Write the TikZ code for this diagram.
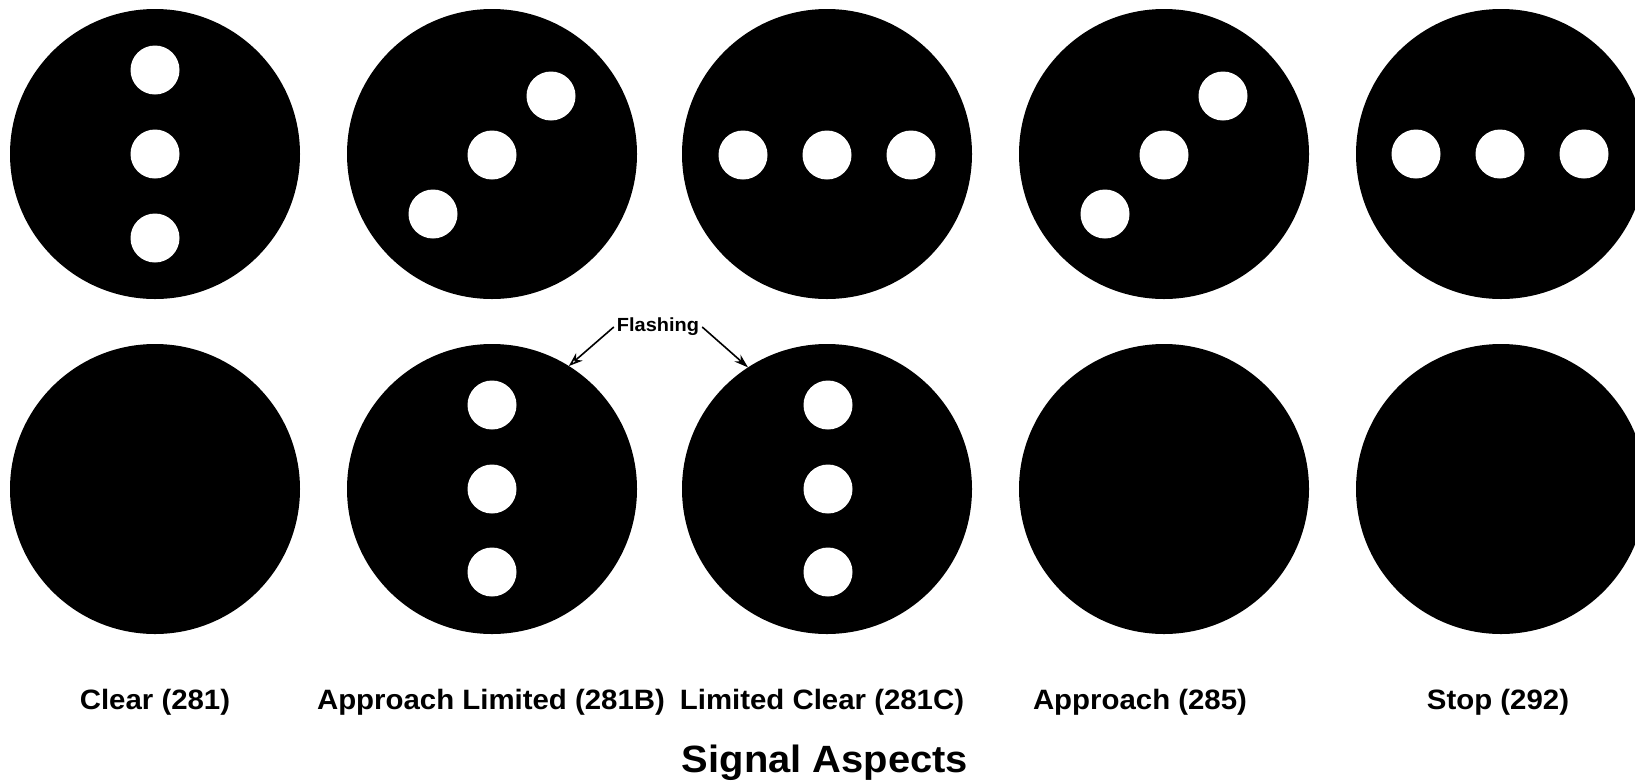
\documentclass[tikz,border=0pt]{standalone}
\usepackage{fontspec}
\usetikzlibrary{arrows.meta}
\newfontfamily\lblfont{Liberation Sans}[FakeStretch=1.05]
\tikzset{
  disc/.style={circle, fill=black, minimum size=290pt, inner sep=0pt, outer sep=0pt},
  lamp/.style={circle, fill=white, minimum size=49pt, inner sep=0pt, outer sep=0pt},
  aspect/.style={anchor=base, inner sep=0pt, font=\lblfont\bfseries\fontsize{28}{32}\selectfont},
  titletext/.style={anchor=base, inner sep=0pt, font=\lblfont\bfseries\fontsize{38}{44}\selectfont},
  flashtext/.style={inner sep=3pt, font=\lblfont\bfseries\fontsize{19}{22}\selectfont},
  pointer/.style={line width=1.6pt}
}
\begin{document}
\begin{tikzpicture}[x=1pt,y=-1pt]
\useasboundingbox (0,0) rectangle (1635,780);
\clip (0,0) rectangle (1635,780);
\fill[white] (0,0) rectangle (1635,780);
% top row discs
\node[disc] (t1) at (155,154) {};
\node[disc] (t2) at (492,154) {};
\node[disc] (t3) at (827,154) {};
\node[disc] (t4) at (1164,154) {};
\node[disc] (t5) at (1501,154) {};
% bottom row discs
\node[disc] (b1) at (155,489) {};
\node[disc] (b2) at (492,489) {};
\node[disc] (b3) at (827,489) {};
\node[disc] (b4) at (1164,489) {};
\node[disc] (b5) at (1501,489) {};
% lamps top row
\node[lamp] (t1a) at (155,70) {};
\node[lamp] (t1b) at (155,154) {};
\node[lamp] (t1c) at (155,238) {};
\node[lamp] (t2a) at (433,214) {};
\node[lamp] (t2b) at (492,155) {};
\node[lamp] (t2c) at (551,96) {};
\node[lamp] (t3a) at (743,155) {};
\node[lamp] (t3b) at (827,155) {};
\node[lamp] (t3c) at (911,155) {};
\node[lamp] (t4a) at (1105,214) {};
\node[lamp] (t4b) at (1164,155) {};
\node[lamp] (t4c) at (1223,96) {};
\node[lamp] (t5a) at (1416,154) {};
\node[lamp] (t5b) at (1500,154) {};
\node[lamp] (t5c) at (1584,154) {};
% lamps bottom row
\node[lamp] (b2a) at (492,405) {};
\node[lamp] (b2b) at (492,489) {};
\node[lamp] (b2c) at (492,572) {};
\node[lamp] (b3a) at (828,405) {};
\node[lamp] (b3b) at (828,489) {};
\node[lamp] (b3c) at (828,572) {};
% flashing label and arrows
\node[flashtext] (flash) at (658,327) {Flashing};
\draw[pointer, -{Stealth[open, length=14pt, width=10pt]}] (flash.west) -- (b2.58);
\draw[pointer, -{Stealth[length=14pt, width=9pt]}] (flash.east) -- (b3.123);
% aspect names
\node[aspect] (l1) at (155,709) {Clear (281)};
\node[aspect] (l2) at (491,709) {Approach Limited (281B)};
\node[aspect] (l3) at (822,709) {Limited Clear (281C)};
\node[aspect] (l4) at (1140,709) {Approach (285)};
\node[aspect] (l5) at (1498,709) {Stop (292)};
\node[titletext] (title) at (825,772) {Signal Aspects};
\end{tikzpicture}
\end{document}
